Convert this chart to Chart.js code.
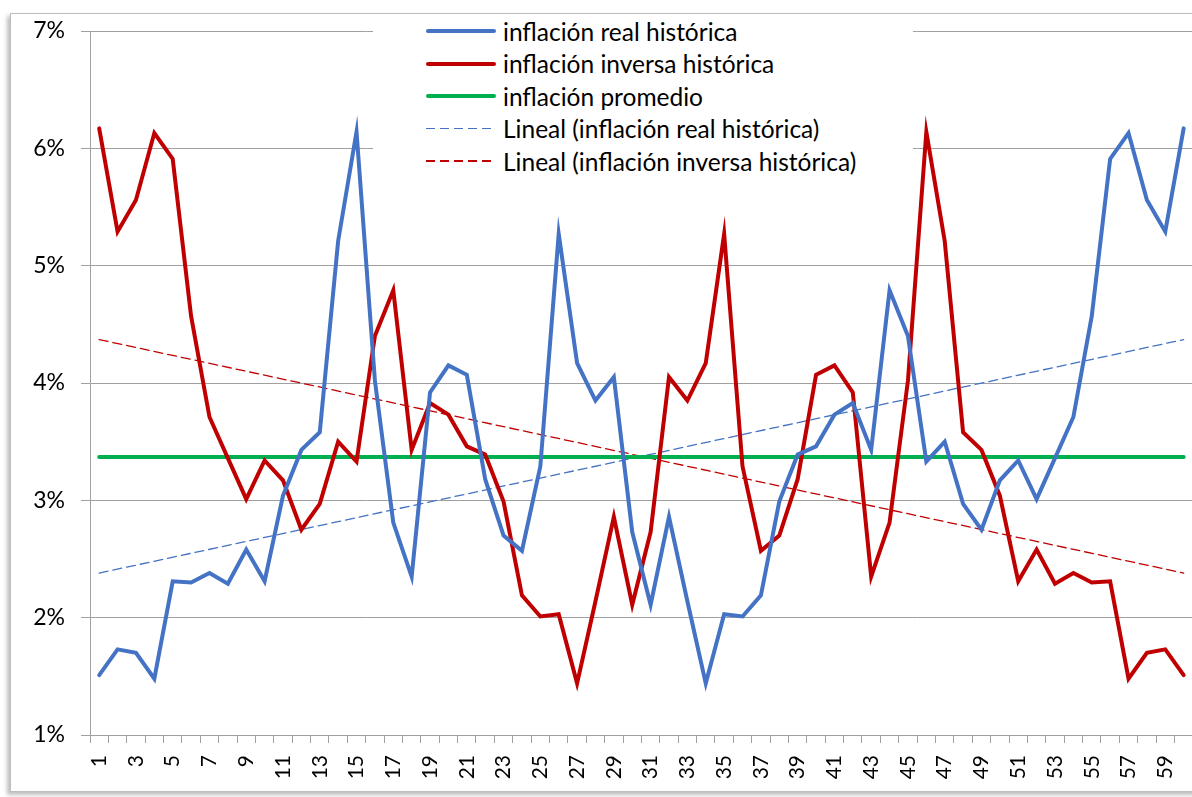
<!DOCTYPE html>
<html>
<head>
<meta charset="utf-8">
<script src="https://cdn.jsdelivr.net/npm/chart.js@4"></script>
<style>
  html, body { margin: 0; padding: 0; background: #fff; overflow: hidden; }
  #frame {
    position: absolute; left: 10px; top: 13px; width: 1210px; height: 777px;
    border: 1px solid #bdbdbd; box-shadow: -3px 3px 4px rgba(0,0,0,0.25);
    background: #fff;
  }
  #chart-wrap { position: absolute; left: 0; top: 0; width: 1210px; height: 777px; }
  #legend {
    position: absolute; left: 362px; top: 1px; width: 540px; height: 168px;
    background: #fff; font-family: Lato, "Open Sans", sans-serif; font-size: 24.5px; color: #000;
  }
  .lg-row { position: absolute; left: 0; height: 32px; display: flex; align-items: center; }
  .lg-line { width: 70px; margin-left: 53px; margin-right: 7px; }
  .lg-text { white-space: nowrap; }
</style>
</head>
<body>
<div id="frame">
  <div id="chart-wrap"><canvas id="inflation-chart"></canvas></div>
  <div id="legend"></div>
</div>
<script>
// ===========================
// inflación real vs inversa
// ===========================

var categories = ['1','2','3','4','5','6','7','8','9','10','11','12','13','14','15','16','17','18','19','20',
  '21','22','23','24','25','26','27','28','29','30','31','32','33','34','35','36','37','38','39','40',
  '41','42','43','44','45','46','47','48','49','50','51','52','53','54','55','56','57','58','59','60'];

// valores en %
var inflacionReal = [1.51, 1.73, 1.70, 1.48, 2.31, 2.30, 2.38, 2.29, 2.58, 2.31,
  3.04, 3.43, 3.58, 5.21, 6.14, 4.02, 2.81, 2.35, 3.92, 4.15,
  4.07, 3.18, 2.70, 2.57, 3.29, 5.27, 4.17, 3.85, 4.05, 2.73,
  2.11, 2.86, 2.14, 1.44, 2.03, 2.01, 2.19, 2.99, 3.39, 3.46,
  3.73, 3.83, 3.43, 4.79, 4.40, 3.33, 3.50, 2.97, 2.75, 3.17,
  3.34, 3.01, 3.36, 3.71, 4.57, 5.91, 6.13, 5.56, 5.29, 6.17];

var inflacionInversa = [6.17, 5.29, 5.56, 6.13, 5.91, 4.57, 3.71, 3.36, 3.01, 3.34,
  3.17, 2.75, 2.97, 3.50, 3.33, 4.40, 4.79, 3.43, 3.83, 3.73,
  3.46, 3.39, 2.99, 2.19, 2.01, 2.03, 1.44, 2.14, 2.86, 2.11,
  2.73, 4.05, 3.85, 4.17, 5.27, 3.29, 2.57, 2.70, 3.18, 4.07,
  4.15, 3.92, 2.35, 2.81, 4.02, 6.14, 5.21, 3.58, 3.43, 3.04,
  2.31, 2.58, 2.29, 2.38, 2.30, 2.31, 1.48, 1.70, 1.73, 1.51];

var inflacionPromedio = 3.37;

// líneas de tendencia: valor en el primer y último periodo
var tendenciaReal = [2.38, 4.37];
var tendenciaInversa = [4.37, 2.38];

var yTicks = [1, 2, 3, 4, 5, 6, 7];

var AZUL = '#4472C4';
var ROJO = '#C00000';
var VERDE = '#00B050';
var GRIS = '#a0a0a0';
var FUENTE = 'Lato, "Open Sans", sans-serif';

function extremos(vals) {
  return [
    { x: categories[0], y: vals[0] },
    { x: categories[categories.length - 1], y: vals[1] }
  ];
}

var datasets = [
  { label: 'inflación real histórica', data: inflacionReal, borderColor: AZUL, borderWidth: 4, dashed: false },
  { label: 'inflación inversa histórica', data: inflacionInversa, borderColor: ROJO, borderWidth: 4, dashed: false },
  { label: 'inflación promedio', data: extremos([inflacionPromedio, inflacionPromedio]), borderColor: VERDE, borderWidth: 4, dashed: false },
  { label: 'Lineal (inflación real histórica)', data: extremos(tendenciaReal), borderColor: AZUL, borderWidth: 1.3, borderDash: [9, 5], dashed: true },
  { label: 'Lineal (inflación inversa histórica)', data: extremos(tendenciaInversa), borderColor: ROJO, borderWidth: 1.3, borderDash: [9, 5], dashed: true }
];

datasets.forEach(function(d) {
  d.pointRadius = 0;
  d.pointHoverRadius = 0;
  d.fill = false;
  d.tension = 0;
  d.borderCapStyle = 'round';
});

// leyenda HTML
var legendEl = document.getElementById('legend');
legendEl.innerHTML = datasets.map(function(d, i) {
  var sample = d.dashed
    ? 'height:1.5px;background:repeating-linear-gradient(to right,' + d.borderColor + ' 0 9px,transparent 9px 14px);'
    : 'height:4px;border-radius:2px;background:' + d.borderColor + ';';
  return '<div class="lg-row" style="top:' + (i * 32.5) + 'px;">' +
    '<div class="lg-line" style="' + sample + '"></div>' +
    '<div class="lg-text">' + d.label + '</div></div>';
}).join('');

var ctx = document.getElementById('inflation-chart').getContext('2d');
new Chart(ctx, {
  type: 'line',
  data: { labels: categories, datasets: datasets },
  options: {
    responsive: true,
    maintainAspectRatio: false,
    animation: false,
    layout: { padding: { top: 17, right: 17, left: 0, bottom: 0 } },
    plugins: { legend: { display: false }, tooltip: { enabled: false } },
    scales: {
      x: {
        type: 'category',
        offset: true,
        grid: { display: true, drawOnChartArea: false, drawTicks: true, tickLength: 8, color: GRIS, offset: true },
        border: { color: GRIS, width: 1 },
        ticks: {
          autoSkip: false,
          minRotation: 90,
          maxRotation: 90,
          padding: 12,
          color: '#000',
          font: { family: FUENTE, size: 21 },
          callback: function(v, i) { return i % 2 === 0 ? categories[i] : ''; }
        },
        afterFit: function(scale) { scale.height = 56; }
      },
      y: {
        min: yTicks[0],
        max: yTicks[yTicks.length - 1],
        afterBuildTicks: function(scale) {
          scale.ticks = yTicks.map(function(v) { return { value: v }; });
        },
        grid: { color: GRIS, lineWidth: 1, tickLength: 9, drawTicks: true },
        border: { color: GRIS, width: 1 },
        ticks: {
          padding: 16,
          color: '#000',
          font: { family: FUENTE, size: 23 },
          callback: function(v) { return v + '%'; }
        },
        afterFit: function(scale) {
          // el padding de las etiquetas no debe empujar el área del gráfico
          scale.width = 79;
          scale.paddingTop = 4;
          scale.paddingBottom = 4;
        }
      }
    }
  }
});
</script>
</body>
</html>
